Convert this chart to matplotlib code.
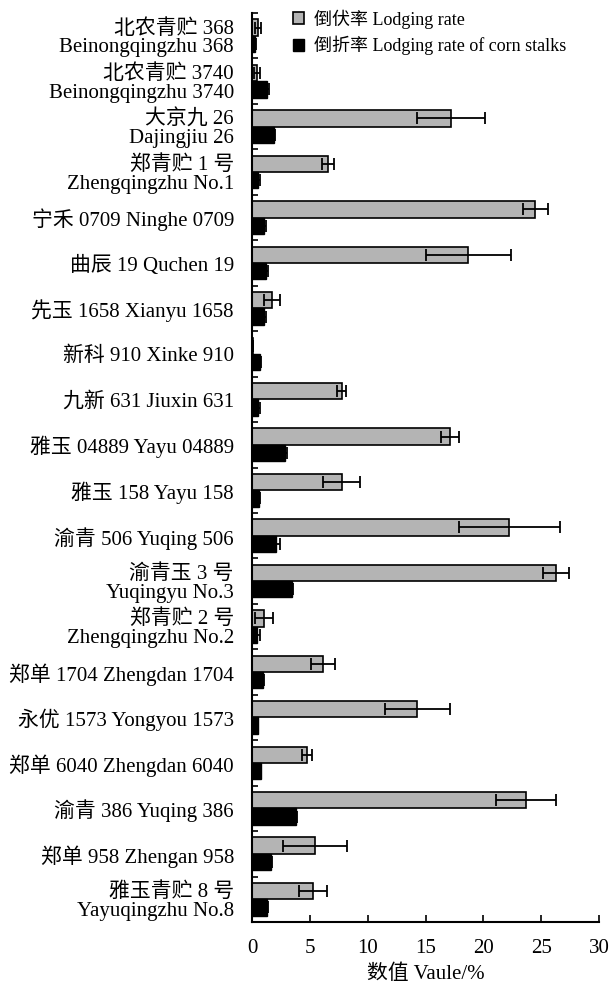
import matplotlib
matplotlib.use("Agg")
import matplotlib.pyplot as plt
import numpy as np
from matplotlib.patches import Patch

plt.rcParams['font.family'] = ['Liberation Serif', 'Noto Sans CJK SC']

categories = [
    "北农青贮 368\nBeinongqingzhu 368",
    "北农青贮 3740\nBeinongqingzhu 3740",
    "大京九 26\nDajingjiu 26",
    "郑青贮 1 号\nZhengqingzhu No.1",
    "宁禾 0709 Ninghe 0709",
    "曲辰 19 Quchen 19",
    "先玉 1658 Xianyu 1658",
    "新科 910 Xinke 910",
    "九新 631 Jiuxin 631",
    "雅玉 04889 Yayu 04889",
    "雅玉 158 Yayu 158",
    "渝青 506 Yuqing 506",
    "渝青玉 3 号\nYuqingyu No.3",
    "郑青贮 2 号\nZhengqingzhu No.2",
    "郑单 1704 Zhengdan 1704",
    "永优 1573 Yongyou 1573",
    "郑单 6040 Zhengdan 6040",
    "渝青 386 Yuqing 386",
    "郑单 958 Zhengan 958",
    "雅玉青贮 8 号\nYayuqingzhu No.8",
]
lodging = [0.54, 0.40, 17.2, 6.57, 24.5, 18.7, 1.7, 0.05, 7.75, 17.1,
           7.75, 22.25, 26.3, 1.05, 6.1, 14.3, 4.75, 23.7, 5.43, 5.3]
lodging_err = [0.27, 0.25, 2.93, 0.55, 1.1, 3.67, 0.7, 0.0, 0.37, 0.8,
               1.62, 4.38, 1.1, 0.76, 1.04, 2.8, 0.45, 2.57, 2.78, 1.21]
stalk = [0.27, 1.3, 1.9, 0.55, 1.0, 1.25, 1.05, 0.7, 0.55, 2.85,
         0.6, 2.05, 3.45, 0.45, 0.95, 0.5, 0.75, 3.78, 1.6, 1.3]
stalk_err = [0.05, 0.17, 0.1, 0.15, 0.2, 0.13, 0.15, 0.05, 0.1, 0.15,
             0.1, 0.33, 0.13, 0.2, 0.1, 0.05, 0.05, 0.1, 0.1, 0.1]
xticks = [0, 5, 10, 15, 20, 25, 30]
xlabel = "数值 Vaule/%"
legend_labels = ["倒伏率 Lodging rate", "倒折率 Lodging rate of corn stalks"]

fig = plt.figure(figsize=(6.11, 9.89), dpi=100)
ax = fig.add_axes([252/611, 1-922/989, (599-252)/611, (922-13)/989])

n = len(categories)
y = np.arange(n)
h = 0.36
err_kw = dict(ecolor='black', elinewidth=1.3, capsize=4, capthick=1.3)
ax.barh(y - h/2, lodging, height=h, color='#b4b4b4', edgecolor='black',
        linewidth=1.2, xerr=lodging_err, error_kw=err_kw)
ax.barh(y + h/2, stalk, height=h, color='black', edgecolor='black',
        linewidth=1.0, xerr=stalk_err, error_kw=err_kw)

ax.set_ylim(n - 0.5, -0.5)
ax.set_xlim(0, 30)
ax.set_yticks(y)
ax.set_yticklabels(categories, fontsize=15, linespacing=0.98)
ax.set_yticks(np.arange(n + 1) - 0.5, minor=True)
ax.tick_params(axis='y', which='major', length=0, pad=13)
ax.tick_params(axis='y', which='minor', length=4, direction='in', width=1.2)
ax.set_xticks(xticks)
ax.set_xticklabels([str(t) for t in xticks], fontsize=15)
ax.tick_params(axis='x', length=5, direction='in', width=1.2, pad=12)
ax.set_xlabel(xlabel, fontsize=15, labelpad=5)

for s in ['top', 'right']:
    ax.spines[s].set_visible(False)
for s in ['left', 'bottom']:
    ax.spines[s].set_linewidth(1.5)

handles = [Patch(facecolor='#b4b4b4', edgecolor='black', linewidth=1.2),
           Patch(facecolor='black', edgecolor='black')]
fig.legend(handles, legend_labels, loc='upper left',
           bbox_to_anchor=(286/611, 1 - 2/989), frameon=False, fontsize=13,
           handlelength=0.6, handleheight=0.6, handletextpad=0.55,
           labelspacing=0.4, borderaxespad=0)

fig.savefig("out.png", dpi=100)
